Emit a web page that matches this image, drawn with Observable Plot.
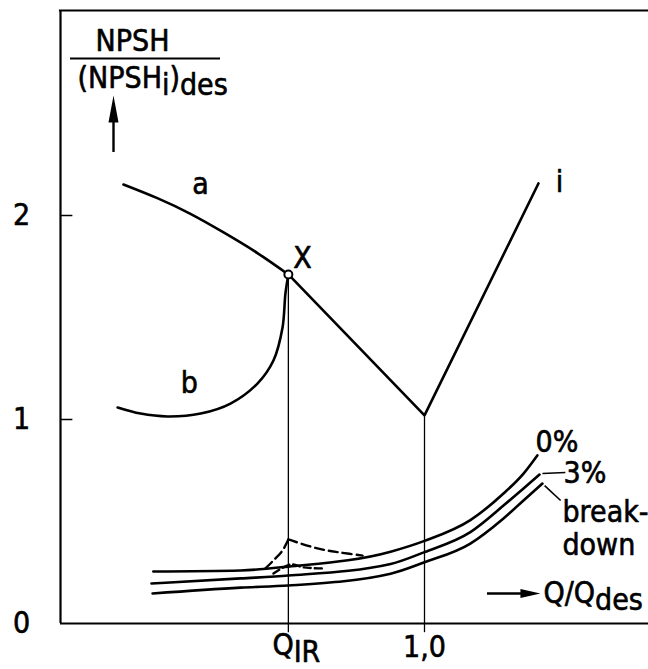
<!DOCTYPE html>
<html>
<head>
<meta charset="utf-8">
<script src="https://cdn.jsdelivr.net/npm/d3@7"></script>
<script src="https://cdn.jsdelivr.net/npm/@observablehq/plot@0.6"></script>
<style>
  html, body { margin: 0; padding: 0; background: #fff; }
</style>
</head>
<body>
<div id="chart"></div>
<script>
// NPSH / (NPSH_i)_des against Q / Q_des

const yTicks = [0, 1, 2];
const yTickLabels = ["0", "1", "2"];
const qIR = 0.626;                      // flow at the inlet recirculation onset
const xTickValues = [qIR, 1.0];
const xTickLabels = ["Q_{IR}", "1,0"];

// curve a (upper branch, ending at point X)
const curveAQ = [0.173, 0.266, 0.357, 0.448, 0.541, 0.626];
const curveAV = [2.152, 2.085, 2.008, 1.917, 1.816, 1.711];

// curve b (lower branch, rising into point X)
const curveBQ = [0.157, 0.220, 0.294, 0.385, 0.467, 0.541, 0.585, 0.610, 0.618, 0.626];
const curveBV = [1.059, 1.029, 1.015, 1.029, 1.078, 1.176, 1.289, 1.451, 1.618, 1.711];

// inception line i: from X down to design flow, then rising
const lineIQ = [0.626, 1.0, 1.313];
const lineIV = [1.711, 1.020, 2.157];

const pointX = { q: 0.626, v: 1.711 };

// head-drop curves
const zeroPctQ = [0.255, 0.495, 0.626, 0.907, 1.0, 1.126, 1.217, 1.272, 1.310];
const zeroPctV = [0.255, 0.260, 0.279, 0.352, 0.405, 0.507, 0.637, 0.735, 0.824];
const threePctQ = [0.250, 0.495, 0.626, 0.907, 1.0, 1.126, 1.217, 1.272, 1.316];
const threePctV = [0.196, 0.221, 0.235, 0.292, 0.350, 0.448, 0.578, 0.662, 0.730];
const breakdownQ = [0.253, 0.495, 0.626, 0.907, 1.0, 1.126, 1.217, 1.272, 1.324];
const breakdownV = [0.147, 0.176, 0.186, 0.244, 0.300, 0.392, 0.515, 0.603, 0.686];

// dashed humps near Q_IR
const humpUpLeftQ = [0.563, 0.585, 0.610, 0.626];
const humpUpLeftV = [0.270, 0.309, 0.358, 0.412];
const humpUpRightQ = [0.626, 0.706, 0.769, 0.830];
const humpUpRightV = [0.412, 0.368, 0.348, 0.333];
const humpLowQ = [0.585, 0.632, 0.668, 0.720];
const humpLowV = [0.245, 0.289, 0.275, 0.270];

const toRows = (qs, vs) => qs.map((q, i) => ({ q, v: vs[i] }));

const FONT = "'DejaVu Sans Condensed', 'DejaVu Sans', sans-serif";
const FS = 30;
const TEXT = { fontFamily: FONT, fontSize: FS, fill: "#000", stroke: "#000", strokeWidth: 0.6 };

// filled arrowheads
const headUp = { draw(c) { c.moveTo(0, -13.5); c.lineTo(5, 13.5); c.lineTo(-5, 13.5); c.closePath(); } };
const headRight = { draw(c) { c.moveTo(10, 0); c.lineTo(-10, -4.5); c.lineTo(-10, 4.5); c.closePath(); } };

const txt = (label, q, v, opts = {}) =>
  Plot.text([label], { x: () => q, y: () => v, text: d => d, ...TEXT, ...opts });

const smooth = { x: "q", y: "v", curve: "monotone-x", strokeWidth: 2.6 };

const chart = Plot.plot({
  width: 648,
  height: 669,
  marginLeft: 60,
  marginRight: 0,
  marginTop: 11,
  marginBottom: 46,
  x: { domain: [0, 588 / 364], axis: null },
  y: { domain: [0, 3], axis: null },
  style: { background: "#fff", color: "#000" },
  marks: [
    // frame
    Plot.ruleX([0], { y1: 0, y2: 3.005, strokeWidth: 2.2 }),
    Plot.ruleY([3.005], { x1: -0.003, x2: 1.62, strokeWidth: 2.2 }),
    Plot.ruleY([0], { x1: 0, x2: 1.62, strokeWidth: 2.2 }),

    // y ticks (inward) and labels
    Plot.ruleY(yTicks.filter(d => d > 0), { x1: 0, x2: 0.034, strokeWidth: 1.5 }),
    Plot.text(yTicks, { x: 0, y: d => d, text: (d, i) => yTickLabels[i], dx: -39, ...TEXT }),

    // verticals at Q_IR and design flow, running just below the axis
    Plot.ruleX([qIR], { y1: -0.045, y2: pointX.v, strokeWidth: 1.3 }),
    Plot.ruleX([1.0], { y1: -0.045, y2: lineIV[1], strokeWidth: 1.3 }),
    Plot.text([0], { x: () => xTickValues[0], y: () => 0, text: () => xTickLabels[0], dx: 8, dy: 22, ...TEXT }),
    Plot.text([1], { x: () => xTickValues[1], y: () => 0, text: () => xTickLabels[1], dy: 24, ...TEXT }),

    // curves a, b and line i
    Plot.line(toRows(curveAQ, curveAV), { ...smooth, curve: "natural" }),
    Plot.line(toRows(curveBQ, curveBV), { ...smooth, curve: "catmull-rom" }),
    Plot.line(toRows(lineIQ, lineIV), { x: "q", y: "v", strokeWidth: 2.6 }),
    Plot.dot([pointX], { x: "q", y: "v", r: 4, fill: "#fff", stroke: "#000", strokeWidth: 2 }),

    // head-drop curves
    Plot.line(toRows(zeroPctQ, zeroPctV), smooth),
    Plot.line(toRows(threePctQ, threePctV), smooth),
    Plot.line(toRows(breakdownQ, breakdownV), smooth),
    Plot.line(toRows(humpUpLeftQ, humpUpLeftV), { ...smooth, curve: "catmull-rom", strokeWidth: 2.4, strokeDasharray: "9,5" }),
    Plot.line(toRows(humpUpRightQ, humpUpRightV), { ...smooth, curve: "catmull-rom", strokeWidth: 2.4, strokeDasharray: "9,5" }),
    Plot.line(toRows(humpLowQ, humpLowV), { ...smooth, curve: "catmull-rom", strokeWidth: 2.4, strokeDasharray: "7,4" }),

    // curve labels and leaders
    txt("a", 0.385, 2.152),
    txt("b", 0.354, 1.176),
    txt("X", 0.665, 1.789),
    txt("i", 1.371, 2.162),
    txt("0%", 1.305, 0.887, { textAnchor: "start" }),
    txt("3%", 1.382, 0.735, { textAnchor: "start" }),
    txt("break-", 1.379, 0.544, { textAnchor: "start" }),
    txt("down", 1.379, 0.382, { textAnchor: "start" }),
    Plot.link([0], { x1: () => 1.324, y1: () => 0.735, x2: () => 1.387, y2: () => 0.740, strokeWidth: 1.6 }),
    Plot.link([0], { x1: () => 1.330, y1: () => 0.676, x2: () => 1.374, y2: () => 0.603, strokeWidth: 1.6 }),

    // axis titles with arrows
    txt("NPSH", 0.198, 2.853),
    Plot.ruleY([2.770], { x1: 0.0275, x2: 0.4396, strokeWidth: 2 }),
    txt("(NPSH_{i})_{des}", 0.0467, 2.672, { textAnchor: "start" }),
    Plot.ruleX([0.1456], { y1: 2.309, y2: 2.52, strokeWidth: 2.4 }),
    Plot.dot([0], { x: () => 0.1456, y: () => 2.522, symbol: headUp, fill: "#000", stroke: null }),
    Plot.ruleY([0.147], { x1: 1.173, x2: 1.27, strokeWidth: 2.4 }),
    Plot.dot([0], { x: () => 1.291, y: () => 0.147, symbol: headRight, fill: "#000", stroke: null }),
    txt("Q/Q_{des}", 1.327, 0.147, { textAnchor: "start" })
  ]
});

// render "_{...}" as lowered subscript runs
function applySubscripts(root) {
  root.querySelectorAll("text").forEach(el => {
    const s = el.textContent;
    if (!s.includes("_{")) return;
    el.textContent = "";
    let lowered = false;
    for (const part of s.split(/(_\{[^}]*\})/)) {
      if (!part) continue;
      const sub = part.startsWith("_{");
      const ts = document.createElementNS("http://www.w3.org/2000/svg", "tspan");
      ts.textContent = sub ? part.slice(2, -1) : part;
      if (sub !== lowered) ts.setAttribute("dy", sub ? "0.22em" : "-0.22em");
      lowered = sub;
      el.appendChild(ts);
    }
  });
}
applySubscripts(chart);

document.getElementById("chart").appendChild(chart);
</script>
</body>
</html>
